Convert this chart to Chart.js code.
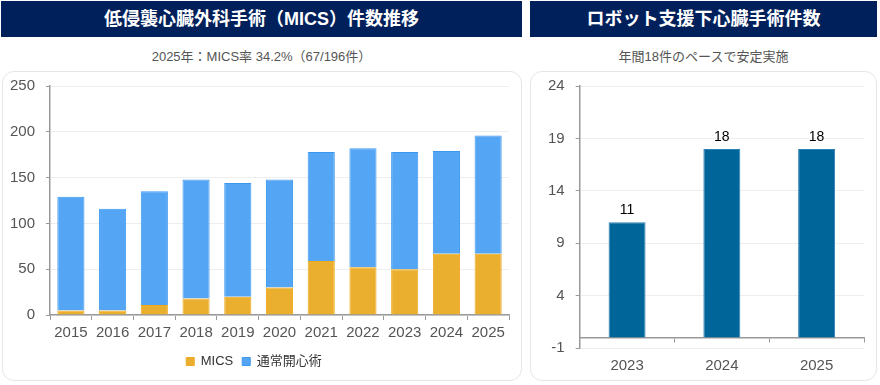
<!DOCTYPE html>
<html>
<head>
<meta charset="utf-8">
<script src="https://cdn.jsdelivr.net/npm/chart.js@4"></script>
<style>
  body { margin: 0; background: #fff; font-family: 'Liberation Sans', 'Noto Sans CJK JP', sans-serif; }
  .head { position: absolute; top: 1px; height: 36px; background: #00205b; color: #fff;
          font: bold 18px 'Liberation Sans', 'Noto Sans CJK JP', sans-serif; line-height: 36px; text-align: center; }
  .sub { position: absolute; top: 48px; height: 18px; line-height: 18px; text-align: center;
         font-size: 13px; color: #555; }
  .box { position: absolute; top: 71px; height: 310px; box-sizing: border-box;
         border: 1px solid #e6e6e6; border-radius: 12px; background: #fff; }
  .box canvas { position: absolute; left: 0; top: 0; }
</style>
</head>
<body>
<div class="head" style="left:1px;width:521px">低侵襲心臓外科手術（MICS）件数推移</div>
<div class="sub" style="left:1px;width:521px">2025年：MICS率 34.2%（67/196件）</div>
<div class="box" style="left:2px;width:520px"><canvas id="mics"></canvas></div>

<div class="head" style="left:530px;width:347px">ロボット支援下心臓手術件数</div>
<div class="sub" style="left:530px;width:347px">年間18件のペースで安定実施</div>
<div class="box" style="left:530px;width:347px"><canvas id="robot"></canvas></div>

<script>
// MICS vs conventional open-heart surgery counts
const years = ['2015', '2016', '2017', '2018', '2019', '2020', '2021', '2022', '2023', '2024', '2025'];
const micsCounts = [5, 5, 11, 18, 20, 30, 59, 52, 50, 67, 67];
const openCounts = [124, 111, 124, 130, 124, 118, 119, 130, 128, 112, 129];

// robot-assisted cardiac surgery
const robotYears = ['2023', '2024', '2025'];
const robotCounts = [11, 18, 18];

const tickFont = { family: 'Liberation Sans', size: 15 };
const yTickFont = { family: 'Liberation Sans', size: 15, lineHeight: 0.4 };
const axisGray = '#999';

var ctx1 = document.getElementById('mics').getContext('2d');
ctx1.canvas.width = 518; ctx1.canvas.height = 308;
new Chart(ctx1, {
  type: 'bar',
  data: {
    labels: years,
    datasets: [
      { label: 'MICS', data: micsCounts, backgroundColor: '#ebaf2f', borderColor: '#f0aa1e', borderWidth: 1 },
      { label: '通常開心術', data: openCounts, backgroundColor: '#54a6f5', borderColor: '#3c98ee', borderWidth: 1 }
    ]
  },
  options: {
    responsive: false,
    animation: false,
    barPercentage: 0.65,
    categoryPercentage: 1,
    layout: { padding: { top: 0, right: 12, left: -4, bottom: 2 } },
    scales: {
      x: {
        stacked: true,
        grid: { display: true, drawOnChartArea: false, offset: true, tickLength: 5, tickColor: axisGray },
        border: { color: axisGray, width: 1.5 },
        ticks: { color: '#555', font: tickFont, padding: 4 }
      },
      y: {
        stacked: true,
        min: 0, max: 250,
        ticks: { stepSize: 50, color: '#555', font: yTickFont, padding: 11 },
        grid: { color: '#eeeeee', tickLength: 4, tickColor: axisGray },
        border: { color: axisGray, width: 1.5 }
      }
    },
    plugins: {
      legend: {
        position: 'bottom',
        labels: { boxWidth: 8, boxHeight: 8, color: '#333', padding: 9,
                  font: { family: "'Liberation Sans', 'Noto Sans CJK JP'", size: 13 } }
      },
      tooltip: { enabled: false }
    }
  }
});

// value labels on top of the robot bars
const topLabels = {
  id: 'topLabels',
  afterDatasetsDraw(chart) {
    const c = chart.ctx;
    c.save();
    c.font = '14px Liberation Sans';
    c.fillStyle = '#000';
    c.textAlign = 'center';
    c.textBaseline = 'bottom';
    chart.getDatasetMeta(0).data.forEach((bar, i) => {
      c.fillText(chart.data.datasets[0].data[i], bar.x, bar.y - 5);
    });
    c.restore();
  }
};

var ctx2 = document.getElementById('robot').getContext('2d');
ctx2.canvas.width = 345; ctx2.canvas.height = 308;
new Chart(ctx2, {
  type: 'bar',
  data: {
    labels: robotYears,
    datasets: [{ label: 'ロボット', data: robotCounts, backgroundColor: '#006699', borderColor: '#2a7fb5', borderWidth: 1 }]
  },
  options: {
    responsive: false,
    animation: false,
    barPercentage: 0.39,
    categoryPercentage: 1,
    layout: { padding: { top: 0, right: 12, left: 6, bottom: 32 } },
    scales: {
      x: {
        position: { y: 0 },
        grid: { display: true, drawOnChartArea: false, offset: true, tickLength: 4, tickColor: axisGray },
        border: { color: axisGray, width: 1.5 },
        ticks: { color: '#555', font: tickFont, padding: 15 }
      },
      y: {
        min: -1, max: 24,
        ticks: { stepSize: 5, color: '#555', font: yTickFont, padding: 11 },
        grid: { color: '#eeeeee', tickLength: 4, tickColor: axisGray },
        border: { color: axisGray, width: 1.5 }
      }
    },
    plugins: {
      legend: { display: false },
      tooltip: { enabled: false }
    }
  },
  plugins: [topLabels]
});
</script>
</body>
</html>
